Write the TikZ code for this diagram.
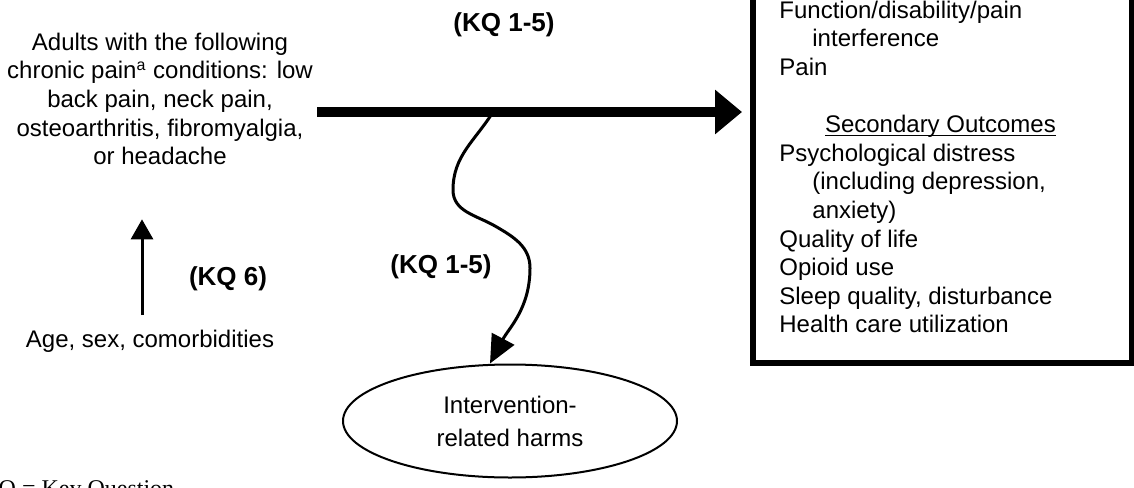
\documentclass[tikz,border=0pt]{standalone}
\usepackage{fontspec}
\setmainfont{Liberation Sans}
\newfontfamily\notefont{Liberation Serif}
\usetikzlibrary{arrows.meta,shapes.geometric,positioning,calc}

% underline set close to the baseline
\newcommand{\headline}[1]{\setbox0\hbox{#1}\rlap{\rule[-1.6pt]{\wd0}{0.6pt}}\box0}

\begin{document}
\begin{tikzpicture}[x=0.5pt, y=0.5pt,
    txt/.style={inner sep=0pt, font=\fontsize{12}{14.3}\selectfont, align=center},
    kq/.style={inner sep=0pt, font=\fontsize{13}{15}\selectfont\bfseries},
    outbox/.style={draw, line width=3pt, minimum width=189.5pt, minimum height=201.5pt},
    harmbox/.style={draw, ellipse, line width=1pt, minimum width=167pt, minimum height=56.5pt,
        inner sep=0pt, align=center, font=\fontsize{12}{16.5}\selectfont},
    mainarrow/.style={line width=5pt, -{Triangle[length=13.5pt, width=21.5pt]}},
    thinarrow/.style={line width=1.5pt, -{Triangle[length=10pt, width=11pt]}},
    wavyarrow/.style={line width=1.5pt, -{Triangle[length=14pt, width=12.5pt]}}]

    % frame of the figure, top of the outcome box is cut off
    \useasboundingbox (0,0) rectangle (1134,-487);
    \clip (0,0) rectangle (1134,-487);

    % population and moderators
    \node[txt, anchor=north] (population) at (160,-32.5) {Adults with the following\\
        chronic pain\textsuperscript{a} conditions: low\\
        back pain, neck pain,\\
        osteoarthritis, fibromyalgia,\\
        or headache};
    \node[txt, anchor=base] (age) at (150,-347) {Age, sex, comorbidities};
    \node[kq, anchor=base] (kqsix) at (228,-285) {(KQ 6)};

    % outcomes
    \node[outbox] (outcomes) at (942.5,-161.5) {};
    \node[txt, align=left, anchor=north west] (outtext) at (779,-0.5) {Function/disability/pain\\
        \hspace*{16.5pt}interference\\
        Pain\\[14.3pt]
        \makebox[161pt]{\headline{Secondary Outcomes}}\\
        Psychological distress\\
        \hspace*{16.5pt}(including depression,\\
        \hspace*{16.5pt}anxiety)\\
        Quality of life\\
        Opioid use\\
        Sleep quality, disturbance\\
        Health care utilization};

    % harms
    \node[harmbox] (harms) at (510,-421) {Intervention-\\related harms};
    \node[kq, anchor=base] (kqbenefit) at (504,-32) {(KQ 1-5)};
    \node[kq, anchor=base] (kqharm) at (441,-273) {(KQ 1-5)};

    \node[anchor=base west, inner sep=0pt, font=\notefont\fontsize{12}{14}\selectfont] (note) at (-19,-496) {KQ = Key Question};

    % connectors
    \coordinate (branch) at (493,-112);
    \draw[mainarrow, shorten <=2pt, shorten >=4pt] (population.east |- branch) -- (outcomes.west |- branch);
    \draw[thinarrow, shorten <=7pt, shorten >=27pt] ([xshift=-4pt]age.north) -- ([xshift=-4pt]age.north |- population.south);
    \draw[wavyarrow] (branch) to[out=-122, in=90] (453,-190) to[out=-90, in=150] (495,-226)
        to[out=-30, in=90] (530,-268) to[out=-90, in=62] ([xshift=-10pt]harms.north);
\end{tikzpicture}
\end{document}
